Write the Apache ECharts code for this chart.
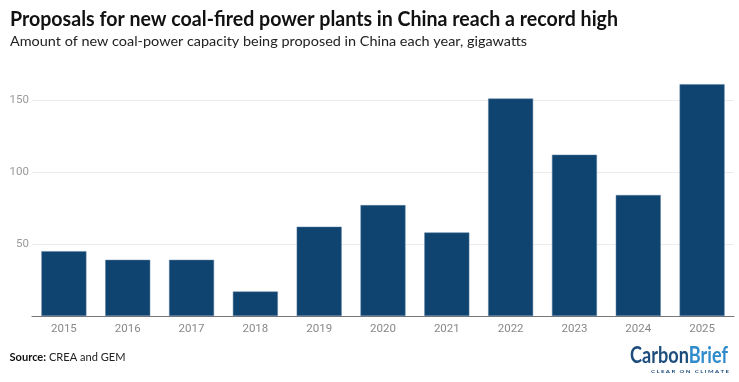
<!DOCTYPE html>
<html>
<head>
<meta charset="utf-8">
<script src="https://cdn.jsdelivr.net/npm/echarts@6/dist/echarts.min.js"></script>
<style>
html,body{margin:0;padding:0;background:#fff;}
#chart{width:739px;height:382px;}
</style>
</head>
<body>
<div id="chart"></div>
<script>
const categories = ['2015','2016','2017','2018','2019','2020','2021','2022','2023','2024','2025'];
const values = [45, 39, 39, 17, 62, 77, 58, 151, 112, 84, 161];
const yTicks = [0, 50, 100, 150];

const titleText = 'Proposals for new coal-fired power plants in China reach a record high';
const subtitleText = 'Amount of new coal-power capacity being proposed in China each year, gigawatts';
const sourceLabel = 'Source:';
const sourceText = ' CREA and GEM';
const logoA = 'Carbon';
const logoB = 'Brief';
const logoTag = 'C L E A R   O N   C L I M A T E';

const FF = 'Lato, "Open Sans", sans-serif';
const ctx = document.createElement('canvas').getContext('2d');
function w(font, txt) { ctx.font = font; return ctx.measureText(txt).width; }

const titleFont = 'bold 20px ' + FF;
const subFont = '13.5px ' + FF;
const srcBold = 'bold 11px ' + FF;
const srcReg = '11px ' + FF;
const logoFont = 'bold 22px ' + FF;
const tagFont = 'bold 4.5px ' + FF;

const titleScale = 608 / w(titleFont, titleText);
const subScale = 517 / w(subFont, subtitleText);
const srcScale = 116 / (w(srcBold, sourceLabel) + w(srcReg, sourceText));
const logoScale = 98 / (w(logoFont, logoA) + w(logoFont, logoB));
const tagScale = 78 / w(tagFont, logoTag);

const chart = echarts.init(document.getElementById('chart'), null, {renderer: 'canvas'});
chart.setOption({
  animation: false,
  backgroundColor: '#ffffff',
  grid: {left: 32, right: 5, top: 71.2, bottom: 66, containLabel: false},
  xAxis: {
    type: 'category',
    data: categories,
    axisTick: {show: false},
    axisLine: {show: true, lineStyle: {color: '#777', width: 1}},
    axisLabel: {color: '#888', fontFamily: 'Roboto, sans-serif', fontSize: 11.5, margin: 7}
  },
  yAxis: {
    type: 'value',
    min: yTicks[0], max: 170, interval: 50,
    axisLine: {show: false},
    axisTick: {show: false},
    axisLabel: {color: '#999', fontFamily: 'Roboto, sans-serif', fontSize: 11.5, margin: 3,
      showMinLabel: false, showMaxLabel: false},
    splitLine: {show: true, showMinLine: false, showMaxLine: false, lineStyle: {color: '#ebebeb', width: 1}}
  },
  series: [{
    type: 'bar',
    data: values,
    barCategoryGap: '29.5%',
    itemStyle: {color: '#0f4470', borderColor: '#5b7fa0', borderWidth: 0.5}
  }],
  graphic: [
    {type: 'text', x: 10, y: 19.5, scaleX: titleScale, style: {
      text: titleText, font: titleFont, fill: '#111', textVerticalAlign: 'middle'
    }},
    {type: 'text', x: 10, y: 41.7, scaleX: subScale, style: {
      text: subtitleText, font: subFont, fill: '#222', textVerticalAlign: 'middle'
    }},
    {type: 'text', x: 9.5, y: 357, scaleX: srcScale, style: {
      text: '{b|' + sourceLabel + '}' + sourceText,
      rich: {b: {font: srcBold, fill: '#111'}},
      font: srcReg, fill: '#222', textVerticalAlign: 'middle'
    }},
    {type: 'text', x: 630, y: 356, scaleX: logoScale, style: {
      text: '{c|' + logoA + '}{d|' + logoB + '}',
      rich: {
        c: {font: logoFont, fill: '#1d4d7c'},
        d: {font: logoFont, fill: '#2f8bcb'}
      },
      textVerticalAlign: 'middle'
    }},
    {type: 'text', x: 651, y: 371.3, scaleX: tagScale, style: {
      text: logoTag, font: tagFont, fill: '#1d4d7c', textVerticalAlign: 'middle'
    }}
  ]
});
</script>
</body>
</html>
